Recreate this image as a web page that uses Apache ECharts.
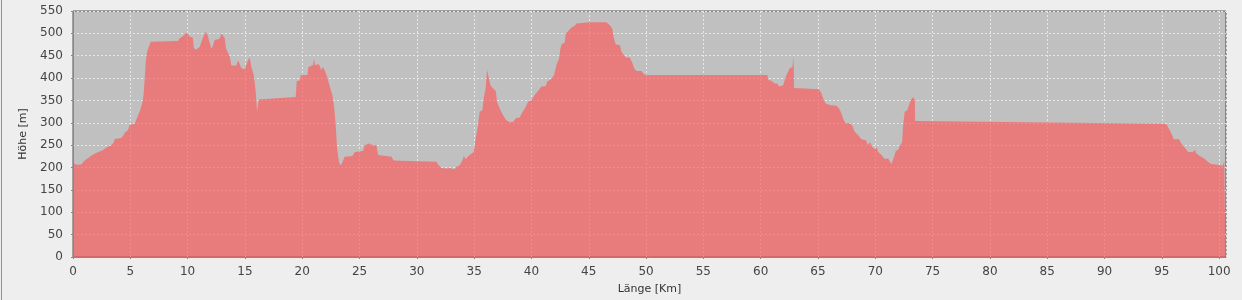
<!DOCTYPE html>
<html>
<head>
<meta charset="utf-8">
<script src="https://cdn.jsdelivr.net/npm/echarts@6/dist/echarts.min.js"></script>
<style>
html,body{margin:0;padding:0;background:#eeeeee;}
#chart{width:1242px;height:300px;}
</style>
</head>
<body>
<div id="chart"></div>
<script>
// Distance along the route (km)
const distanceKm = [
  0.00,0.05,0.15,0.30,0.70,0.87,1.02,1.20,1.46,1.89,2.33,2.62,2.91,3.35,3.55,3.64,4.22,4.40,4.51,4.80,
  4.94,5.38,5.53,5.68,5.88,6.05,6.17,6.26,6.35,6.46,6.63,6.78,6.87,9.17,9.31,9.60,9.89,10.03,10.20,10.45,
  10.55,10.75,10.90,11.06,11.30,11.58,11.75,12.07,12.20,12.36,12.80,12.95,13.24,13.35,13.67,13.82,14.25,14.40,14.55,14.69,
  14.98,15.27,15.42,15.56,15.77,15.94,16.06,16.17,16.20,19.43,19.52,19.80,19.87,20.45,20.54,20.95,21.03,21.12,21.47,21.65,
  21.81,21.95,22.17,22.40,22.63,22.80,22.92,23.04,23.20,23.36,23.50,23.71,24.38,24.58,25.30,25.45,25.83,26.18,26.47,26.62,
  27.78,27.98,28.50,28.65,31.71,31.85,32.15,32.58,32.90,33.30,33.45,33.74,33.98,34.09,34.27,34.50,34.76,34.96,35.14,35.34,
  35.48,35.72,35.84,36.00,36.13,36.28,36.42,36.65,36.89,37.00,37.23,37.52,37.81,38.11,38.40,38.63,38.98,39.15,39.42,39.71,
  40.00,40.29,40.58,40.87,41.25,41.36,41.74,41.97,42.18,42.41,42.53,42.62,42.91,43.00,43.20,43.49,43.78,43.93,45.09,46.54,
  46.69,46.89,47.06,47.18,47.36,47.71,47.85,48.05,48.23,48.58,48.81,48.95,49.16,49.59,49.74,49.97,60.59,60.65,60.94,61.23,
  61.45,61.61,61.75,61.96,62.19,62.39,62.54,62.77,62.86,62.90,62.92,65.10,65.30,65.50,65.68,66.03,66.61,66.84,67.05,67.25,
  67.42,67.78,68.00,68.20,68.35,68.50,68.79,69.17,69.37,69.52,69.75,69.96,70.10,70.25,70.54,70.68,70.83,71.12,71.26,71.41,
  71.55,71.64,71.79,71.99,72.14,72.34,72.43,72.57,72.78,72.95,73.10,73.30,73.45,73.48,95.00,95.40,95.60,95.80,95.97,96.02,
  96.50,96.70,97.00,97.30,97.70,97.90,98.00,98.30,98.70,99.00,99.30,99.90,100.30,100.45,100.55
];
// Elevation (m)
const elevationM = [
  211,213,208,206,207,209,216,219,224,231,236,239,245,250,256,264,266,272,277,284,
  295,298,302,317,330,345,365,400,437,459,463,481,483,483,489,494,502,498,493,490,
  466,464,462,470,488,504,496,466,472,485,488,500,489,466,448,428,428,440,431,422,
  420,440,446,425,407,370,325,323,352,358,393,395,407,407,425,429,444,429,431,418,
  425,418,403,382,362,332,295,243,213,204,206,224,226,235,237,250,254,250,250,228,
  224,216,215,213,213,207,199,198,199,196,202,205,216,226,219,226,231,235,265,295,
  325,328,355,377,418,414,384,377,371,347,332,317,306,301,302,310,312,321,332,347,
  351,363,371,381,382,392,398,407,429,444,466,475,480,500,505,513,517,522,525,525,
  522,517,510,489,475,474,459,452,446,446,433,422,416,416,410,407,407,396,394,388,
  388,381,377,384,403,414,422,425,448,448,378,375,366,351,343,340,338,332,321,306,
  299,299,293,280,281,272,263,261,250,257,246,241,246,235,228,224,219,220,214,208,
  209,224,237,239,249,256,295,325,328,340,351,358,351,304,298,297,288,278,269,263,
  263,254,244,235,235,239,232,226,220,213,208,206,204,213,213
];
// Axis settings
const xTicks = {min: 0, max: 100.6, interval: 5};
const yTicks = {min: 0, max: 550, interval: 50};
const xName = 'Länge [Km]';
const yName = 'Höhe [m]';

const profile = distanceKm.map((d, i) => [d, elevationM[i]]);

const chart = echarts.init(document.getElementById('chart'), null, {renderer: 'canvas'});
const labelFont = {color: '#444', fontFamily: 'DejaVu Sans', fontSize: 12};
const nameFont = {color: '#333', fontFamily: 'DejaVu Sans', fontSize: 11};
chart.setOption({
  animation: false,
  backgroundColor: '#eeeeee',
  grid: {
    left: 73, right: 16, top: 11, bottom: 43,
    show: true, backgroundColor: '#c0c0c0', borderColor: '#555', borderWidth: 1
  },
  xAxis: {
    type: 'value', min: xTicks.min, max: xTicks.max, interval: xTicks.interval,
    offset: 4,
    name: xName, nameLocation: 'middle', nameGap: 23, nameTextStyle: nameFont,
    axisLine: {show: true, lineStyle: {color: '#888', width: 1}},
    axisTick: {show: true, length: 2, lineStyle: {color: '#888'}},
    axisLabel: Object.assign({margin: 5, showMaxLabel: false}, labelFont),
    splitLine: {show: true, lineStyle: {color: '#e6e6e6', type: [2, 2], width: 1}}
  },
  yAxis: {
    type: 'value', min: yTicks.min, max: yTicks.max, interval: yTicks.interval,
    offset: 4,
    name: yName, nameLocation: 'middle', nameGap: 40, nameRotate: 90, nameTextStyle: nameFont,
    axisLine: {show: true, lineStyle: {color: '#888', width: 1}},
    axisTick: {show: true, length: 2, lineStyle: {color: '#888'}},
    axisLabel: Object.assign({margin: 6}, labelFont),
    splitLine: {show: true, lineStyle: {color: '#e6e6e6', type: [2, 2], width: 1}}
  },
  graphic: [{
    type: 'line', shape: {x1: 1.5, y1: 0, x2: 1.5, y2: 300},
    style: {stroke: '#8593a3', lineWidth: 1}, silent: true
  }],
  series: [{
    type: 'line', data: profile, showSymbol: false, symbol: 'none',
    lineStyle: {width: 0, opacity: 0},
    areaStyle: {color: '#ff5555', opacity: 0.64},
    z: 3
  }]
});
</script>
</body>
</html>
